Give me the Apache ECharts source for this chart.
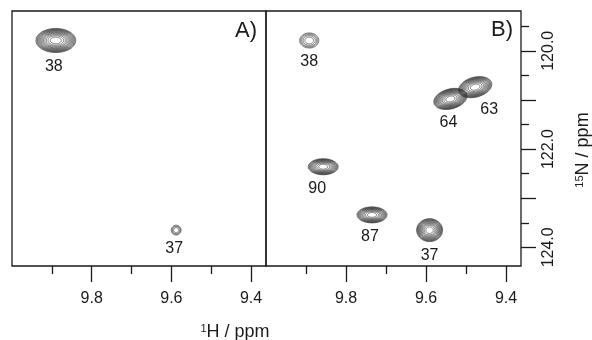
<!DOCTYPE html>
<html><head><meta charset="utf-8">
<script src="https://cdn.jsdelivr.net/npm/echarts@6/dist/echarts.min.js"></script>
<style>html,body{margin:0;padding:0;background:#fff}#c{width:592px;height:340px}</style>
</head><body><div id="c"></div>
<script>
// ---- Data: panel A ----
const peakLabelsA = ['38', '37'];
const peakH_A = [9.890, 9.588];          // 1H shift (ppm)
const peakN_A = [119.79, 123.65];        // 15N shift (ppm)
const halfWidthH_A = [0.050, 0.0125];    // 1H half-width (ppm)
const halfWidthN_A = [0.245, 0.10];      // 15N half-width (ppm)
const contourLevelsA = [13, 4];          // number of contour levels above threshold
const peakTiltA = [0, 0];                // peak tilt (deg)

// ---- Data: panel B ----
const peakLabelsB = ['38', '64', '63', '90', '87', '37'];
const peakH_B = [9.892, 9.539, 9.477, 9.857, 9.735, 9.591];
const peakN_B = [119.79, 120.98, 120.74, 122.36, 123.34, 123.65];
const halfWidthH_B = [0.024, 0.0425, 0.0425, 0.0375, 0.0375, 0.0325];
const halfWidthN_B = [0.153, 0.203, 0.203, 0.163, 0.163, 0.234];
const contourLevelsB = [5, 13, 12, 11, 11, 12];
const peakTiltB = [0, 15, 15, 0, 0, 0];

// ---- Axis ticks ----
const xMajorTicks = [9.4, 9.6, 9.8];
const xMinorTicks = [9.5, 9.7, 9.9];
const yMajorTicks = [120, 121, 122, 123, 124];
const yMinorTicks = [119.5, 120.5, 121.5, 122.5, 123.5];
const yTickLabels = [120, 122, 124];
const xRange = [9.3625, 10.0];
const yRange = [119.19, 124.38];

// ---- Layout (label nudges, px) ----
const labelShiftA = [-2, -2];
const labelShiftB = [0, -2, 14, -6, -2, 0];
const labelLiftB = [0, 0, -2, 0, 0, 0];

const INK = '#1a1a1a';
const FONT = '"Liberation Sans", Arial, sans-serif';

function buildData(h, n, wh, wn, lv, tilt) {
  return h.map((v, i) => [v, n[i], wh[i], wn[i], lv[i], tilt[i]]);
}

function makeRender(labels, shifts, lifts) {
  return function (params, api) {
    const c = api.coord([api.value(0), api.value(1)]);
    const s = api.size([api.value(2), api.value(3)]);
    const rx = Math.abs(s[0]), ry = Math.abs(s[1]);
    const n = api.value(4);
    const th = api.value(5) * Math.PI / 180;
    const ct = Math.cos(th), st = Math.sin(th);
    const children = [];
    for (let k = 0; k < n; k++) {
      const f = Math.sqrt(1 - k / n);
      const pts = [];
      const N = 64;
      for (let t = 0; t < N; t++) {
        const a = t / N * 2 * Math.PI;
        const dx = rx * f * Math.cos(a), dy = ry * f * Math.sin(a);
        pts.push([c[0] + dx * ct + dy * st, c[1] - dx * st + dy * ct]);
      }
      children.push({ type: 'polygon', shape: { points: pts },
        style: { fill: 'none', stroke: '#2a2a2a', lineWidth: 0.6 } });
    }
    const i = params.dataIndex;
    children.push({ type: 'text', x: c[0] + shifts[i], y: c[1] + ry + 14 + (lifts ? lifts[i] : 0),
      style: { text: labels[i], fontSize: 16, fontFamily: FONT, fill: INK,
        align: 'center', verticalAlign: 'middle' } });
    return { type: 'group', children };
  };
}

function xAxes(gi) {
  const base = { gridIndex: gi, type: 'value', min: xRange[0], max: xRange[1], inverse: true,
    position: 'bottom', axisLine: { show: false }, splitLine: { show: false } };
  return [
    Object.assign({}, base, {
      axisTick: { show: true, customValues: xMajorTicks, length: 16, lineStyle: { color: INK, width: 1.3 } },
      axisLabel: { show: true, customValues: xMajorTicks, margin: 25, fontSize: 16, fontFamily: FONT,
        color: INK, formatter: v => v.toFixed(1) }
    }),
    Object.assign({}, base, {
      axisTick: { show: true, customValues: xMinorTicks, length: 8, lineStyle: { color: INK, width: 1.3 } },
      axisLabel: { show: false }
    })
  ];
}

const chart = echarts.init(document.getElementById('c'), null, { renderer: 'canvas' });
const gridStyle = { show: true, borderColor: INK, borderWidth: 1.3, outerBoundsMode: 'none', containLabel: false };
chart.setOption({
  animation: false,
  backgroundColor: '#fff',
  grid: [
    Object.assign({ left: 12, top: 11, width: 254, height: 255 }, gridStyle),
    Object.assign({ left: 266, top: 11, width: 255, height: 255 }, gridStyle)
  ],
  xAxis: [].concat(xAxes(0), xAxes(1)),
  yAxis: [
    { gridIndex: 0, type: 'value', min: yRange[0], max: yRange[1], inverse: true, show: false },
    { gridIndex: 1, type: 'value', min: yRange[0], max: yRange[1], inverse: true, position: 'right',
      axisLine: { show: false }, splitLine: { show: false },
      axisTick: { show: true, customValues: yMajorTicks, length: 15, lineStyle: { color: INK, width: 1.3 } },
      axisLabel: { show: true, customValues: yTickLabels, rotate: 90, margin: 20, fontSize: 16, fontFamily: FONT,
        color: INK, formatter: v => v.toFixed(1) } },
    { gridIndex: 1, type: 'value', min: yRange[0], max: yRange[1], inverse: true, position: 'right',
      axisLine: { show: false }, splitLine: { show: false },
      axisTick: { show: true, customValues: yMinorTicks, length: 8, lineStyle: { color: INK, width: 1.3 } },
      axisLabel: { show: false } }
  ],
  series: [
    { type: 'custom', xAxisIndex: 0, yAxisIndex: 0, renderItem: makeRender(peakLabelsA, labelShiftA, null),
      data: buildData(peakH_A, peakN_A, halfWidthH_A, halfWidthN_A, contourLevelsA, peakTiltA), encode: { x: 0, y: 1 } },
    { type: 'custom', xAxisIndex: 2, yAxisIndex: 1, renderItem: makeRender(peakLabelsB, labelShiftB, labelLiftB),
      data: buildData(peakH_B, peakN_B, halfWidthH_B, halfWidthN_B, contourLevelsB, peakTiltB), encode: { x: 0, y: 1 } }
  ],
  graphic: [
    { type: 'text', x: 246, y: 31, style: { text: 'A)', fontSize: 22, fontFamily: FONT, fill: INK, align: 'center', verticalAlign: 'middle' } },
    { type: 'text', x: 502, y: 30, style: { text: 'B)', fontSize: 22, fontFamily: FONT, fill: INK, align: 'center', verticalAlign: 'middle' } },
    { type: 'text', x: 235, y: 332, style: { text: '{s|1}{n|H / ppm}', align: 'center', verticalAlign: 'middle',
      rich: { s: { fontSize: 11, fontFamily: FONT, fill: INK, verticalAlign: 'top' },
              n: { fontSize: 18, fontFamily: FONT, fill: INK, verticalAlign: 'bottom' } } } },
    { type: 'text', x: 583, y: 150, rotation: Math.PI / 2, style: { text: '{s|15}{n|N / ppm}', align: 'center', verticalAlign: 'middle',
      rich: { s: { fontSize: 11, fontFamily: FONT, fill: INK, verticalAlign: 'top' },
              n: { fontSize: 18, fontFamily: FONT, fill: INK, verticalAlign: 'bottom' } } } }
  ]
});
</script></body></html>
